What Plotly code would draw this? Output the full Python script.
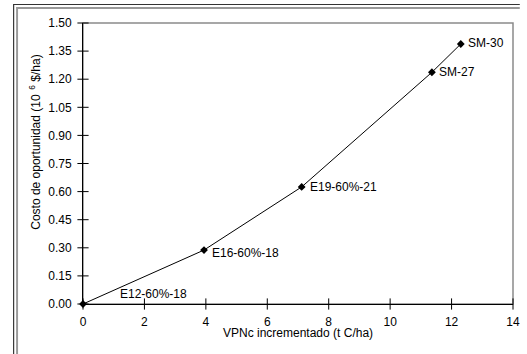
import base64
import plotly.graph_objects as go

# Data
vpnc = [0.0, 3.94, 7.12, 11.36, 12.30]
costo = [0.0, 0.288, 0.625, 1.237, 1.388]
labels = ["E12-60%-18", "E16-60%-18", "E19-60%-21", "SM-27", "SM-30"]
x_ticks = [0, 2, 4, 6, 8, 10, 12, 14]
y_ticks = [0.00, 0.15, 0.30, 0.45, 0.60, 0.75, 0.90, 1.05, 1.20, 1.35, 1.50]

FONT = "Liberation Sans Narrow, Liberation Sans, Arial, sans-serif"
FS = 12
W, H = 527, 354
ML, MR, MT, MB = 83, 7, 23, 50
PW, PH = W - ML - MR, H - MT - MB

fig = go.Figure()
fig.add_trace(go.Scatter(
    x=vpnc, y=costo, mode="lines+markers",
    line=dict(color="black", width=1),
    marker=dict(symbol="diamond", size=6, color="black"),
    hoverinfo="x+y", showlegend=False, cliponaxis=False,
))
# crossing tick marks drawn at the tick values, through the axes' own scales
fig.add_trace(go.Scatter(x=x_ticks, y=[0] * len(x_ticks), mode="markers",
                         marker=dict(symbol="line-ns", size=8,
                                     line=dict(color="black", width=1)),
                         hoverinfo="skip", showlegend=False, cliponaxis=False))
fig.add_trace(go.Scatter(x=[0] * len(y_ticks), y=y_ticks, mode="markers",
                         marker=dict(symbol="line-ew", size=8,
                                     line=dict(color="black", width=1)),
                         hoverinfo="skip", showlegend=False, cliponaxis=False))

# label offsets (style only)
shifts = [(35, 10), (6, -3), (6, 0), (5, 0), (5, 1)]
for xv, yv, t, (dx, dy) in zip(vpnc, costo, labels, shifts):
    fig.add_annotation(x=xv, y=yv, text=t, showarrow=False, xanchor="left",
                       yanchor="middle", xshift=dx, yshift=dy,
                       font=dict(family=FONT, size=FS, color="black"))

axis_common = dict(showgrid=False, zeroline=False, ticks="", showline=True,
                   linecolor="black", linewidth=1, ticklabeloverflow="allow")
fig.update_layout(
    width=W, height=H,
    margin=dict(l=ML, r=MR, t=MT, b=MB),
    paper_bgcolor="white", plot_bgcolor="white",
    font=dict(family=FONT, size=FS, color="black"),
    xaxis=dict(range=[0, 14], tickvals=x_ticks, ticktext=[str(v) for v in x_ticks],
               ticklabelstandoff=7, **axis_common),
    yaxis=dict(range=[0, 1.5], tickvals=y_ticks, ticktext=[f"{v:.2f}" for v in y_ticks],
               ticklabelstandoff=8, **axis_common),
)

def px2paper(px, py):
    return (px - ML) / PW, (H - MB - py) / PH

# axis titles as annotations (positioned like the reference)
tx, ty = px2paper(302, 333)
fig.add_annotation(xref="paper", yref="paper", x=tx, y=ty,
                   text="VPNc incrementado (t C/ha)", showarrow=False,
                   xanchor="center", yanchor="middle",
                   font=dict(family=FONT, size=FS, color="black"))
tx, ty = px2paper(34, 142)
fig.add_annotation(xref="paper", yref="paper", x=tx, y=ty,
                   text="Costo de oportunidad (10<sup>  6</sup> $/ha)", textangle=-90,
                   showarrow=False, xanchor="center", yanchor="middle",
                   font=dict(family=FONT, size=FS, color="black"))

# gray plot border (top/right)
fig.add_shape(type="rect", xref="paper", yref="paper", x0=0, x1=1, y0=0, y1=1,
              line=dict(color="#8a8a8a", width=1.5), layer="below")

# outer double frame of the figure as a decorative background image
frame_svg = (
    f'<svg xmlns="http://www.w3.org/2000/svg" width="{W}" height="{H}" '
    f'viewBox="0 0 {W} {H}">'
    '<path d="M12.5 354 V4.5 H527" fill="none" stroke="#333333" stroke-width="1.2"/>'
    '<path d="M16 354 V8 H527" fill="none" stroke="#999999" stroke-width="2"/>'
    '</svg>'
)
frame_uri = "data:image/svg+xml;base64," + base64.b64encode(frame_svg.encode()).decode()
ix, iy = px2paper(0, 0)
fig.add_layout_image(source=frame_uri, xref="paper", yref="paper", x=ix, y=iy,
                     sizex=W / PW, sizey=H / PH, xanchor="left", yanchor="top",
                     sizing="stretch", layer="above")

fig.write_html("out.html")
